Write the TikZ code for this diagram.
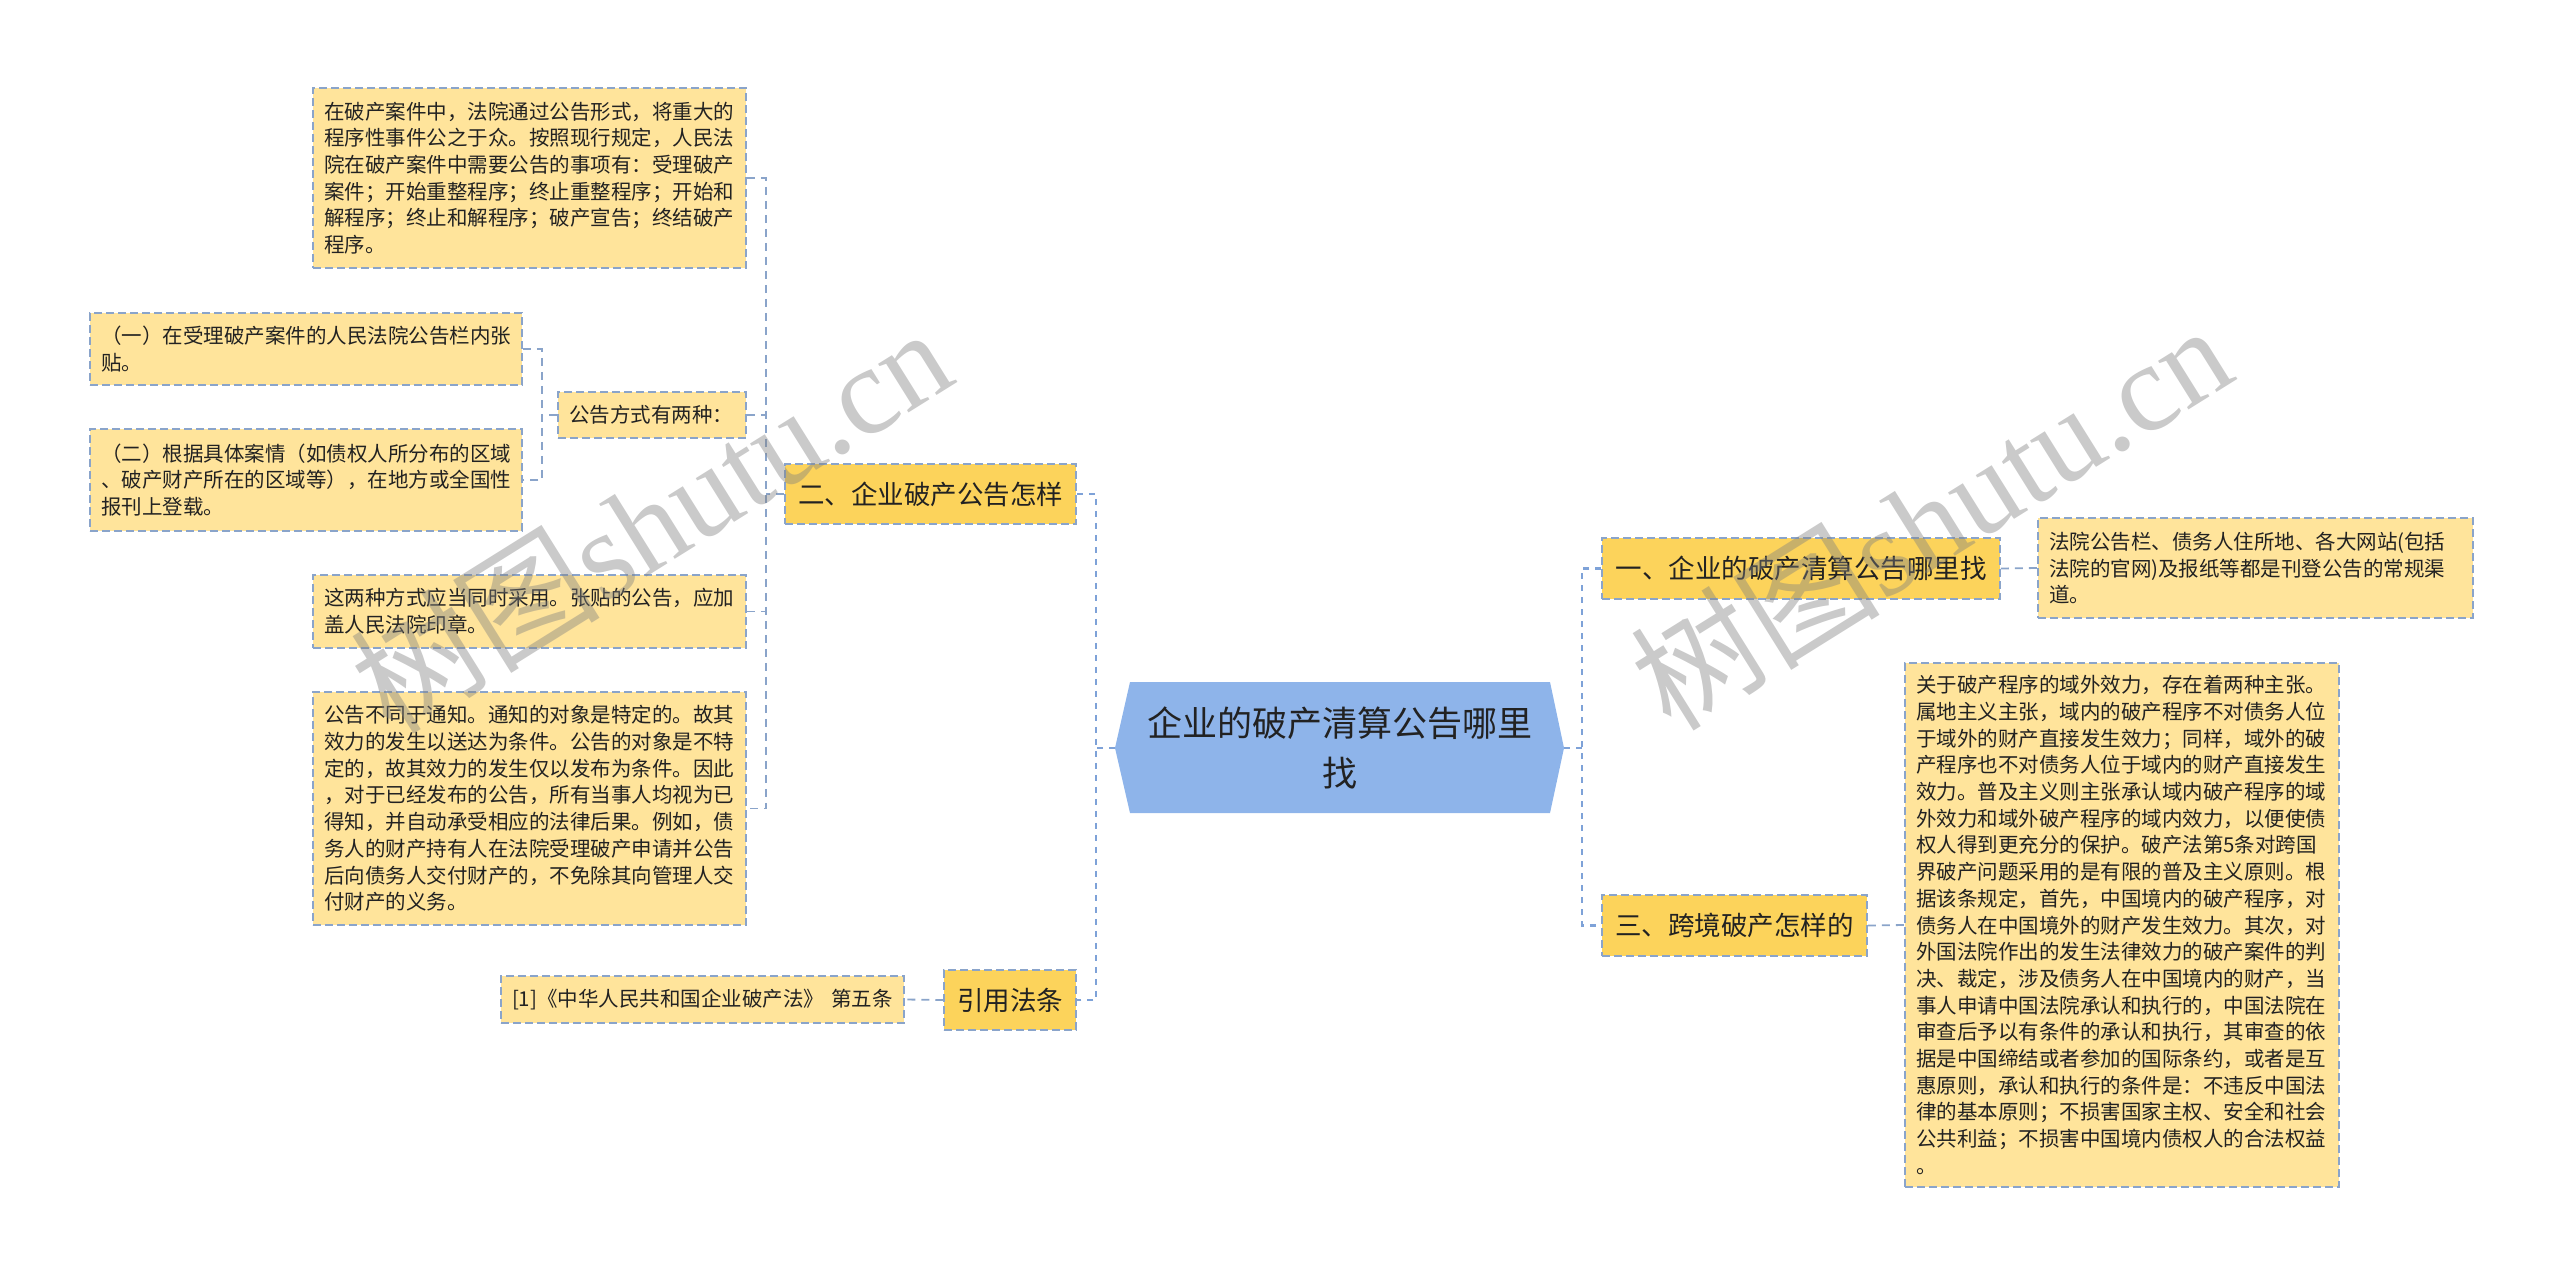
\documentclass[tikz,border=0pt]{standalone}
\usepackage{fontspec}
\setmainfont{Noto Sans CJK SC}
\newfontfamily\wmlatin{Liberation Serif}
\definecolor{leaffill}{HTML}{FFE49B}
\definecolor{lvlfill}{HTML}{FCD35B}
\definecolor{hexfill}{HTML}{8EB4EA}
\definecolor{bordcol}{HTML}{8AA4CA}
\definecolor{conncol}{HTML}{8AA4CA}
\definecolor{cconncol}{HTML}{7EA2D8}
\definecolor{txtcol}{HTML}{222222}
\begin{document}
\begin{tikzpicture}[x=1pt,y=-1pt,
  leafbox/.style={draw=bordcol, fill=leaffill, line width=1.5pt, dash pattern=on 8pt off 4pt,
    inner xsep=11pt, inner ysep=0pt, align=left, text=txtcol,
    font=\fontsize{20.5}{26.7}\selectfont},
  lvlbox/.style={draw=bordcol, fill=lvlfill, line width=1.5pt, dash pattern=on 8pt off 4pt,
    inner sep=0pt, align=center, text=txtcol, font=\fontsize{26.5}{32}\selectfont},
  connline/.style={draw=conncol, line width=1.8pt, dash pattern=on 8pt off 6pt},
  cconnline/.style={draw=cconncol, line width=2.5pt, dash pattern=on 6pt off 6pt},
  wmark/.style={text=black!50, opacity=0.42, rotate=32, inner sep=0pt}
]
\useasboundingbox (0,0) rectangle (2560,1277);

% centre hexagon
\fill[hexfill] (1115,748) -- (1130,682) -- (1550,682) -- (1564,748) -- (1550,813) -- (1130,813) -- cycle;
\coordinate (hexL) at (1115,748);
\coordinate (hexR) at (1564,748);
\node[text=txtcol, align=center, font=\fontsize{35}{50}\selectfont] (root) at (1340,748) {企业的破产清算公告哪里\\找};

% level-1 nodes
\node[lvlbox, minimum width=291pt, minimum height=60pt] (Er) at (930.5,494) {二、企业破产公告怎样};
\node[lvlbox, minimum width=132pt, minimum height=60pt] (Yin) at (1010,1000) {引用法条};
\node[lvlbox, minimum width=398pt, minimum height=61pt] (Yi) at (1801,568.5) {一、企业的破产清算公告哪里找};
\node[lvlbox, minimum width=265pt, minimum height=61pt] (San) at (1734.5,925.5) {三、跨境破产怎样的};

% left leaves
\node[leafbox, text width=411pt, minimum height=180pt] (L1) at (529.5,178) {在破产案件中，法院通过公告形式，将重大的\\程序性事件公之于众。按照现行规定，人民法\\院在破产案件中需要公告的事项有：受理破产\\案件；开始重整程序；终止重整程序；开始和\\解程序；终止和解程序；破产宣告；终结破产\\程序。};
\node[leafbox, text width=410pt, minimum height=72pt] (L2) at (306,349) {（一）在受理破产案件的人民法院公告栏内张\\贴。};
\node[leafbox, text width=410pt, minimum height=102pt] (L3) at (306,480) {（二）根据具体案情（如债权人所分布的区域\\、破产财产所在的区域等），在地方或全国性\\报刊上登载。};
\node[leafbox, text width=166pt, minimum height=46pt] (G) at (652,415) {公告方式有两种：};
\node[leafbox, text width=411pt, minimum height=73pt] (L4) at (529.5,611.5) {这两种方式应当同时采用。张贴的公告，应加\\盖人民法院印章。};
\node[leafbox, text width=411pt, minimum height=233pt] (L5) at (529.5,808.5) {公告不同于通知。通知的对象是特定的。故其\\效力的发生以送达为条件。公告的对象是不特\\定的，故其效力的发生仅以发布为条件。因此\\，对于已经发布的公告，所有当事人均视为已\\得知，并自动承受相应的法律后果。例如，债\\务人的财产持有人在法院受理破产申请并公告\\后向债务人交付财产的，不免除其向管理人交\\付财产的义务。};
\node[leafbox, text width=381pt, minimum height=47pt] (L6) at (702.5,999.5) {\mbox{[1]《中华人民共和国企业破产法》 第五条}};

% right leaves
\node[leafbox, text width=413pt, minimum height=100pt] (R1) at (2255.5,568) {法院公告栏、债务人住所地、各大网站(包括\\法院的官网)及报纸等都是刊登公告的常规渠\\道。};
\node[leafbox, text width=412pt, minimum height=524pt] (R2) at (2122,925) {关于破产程序的域外效力，存在着两种主张。\\属地主义主张，域内的破产程序不对债务人位\\于域外的财产直接发生效力；同样，域外的破\\产程序也不对债务人位于域内的财产直接发生\\效力。普及主义则主张承认域内破产程序的域\\外效力和域外破产程序的域内效力，以便使债\\权人得到更充分的保护。破产法第5条对跨国\\界破产问题采用的是有限的普及主义原则。根\\据该条规定，首先，中国境内的破产程序，对\\债务人在中国境外的财产发生效力。其次，对\\外国法院作出的发生法律效力的破产案件的判\\决、裁定，涉及债务人在中国境内的财产，当\\事人申请中国法院承认和执行的，中国法院在\\审查后予以有条件的承认和执行，其审查的依\\据是中国缔结或者参加的国际条约，或者是互\\惠原则，承认和执行的条件是：不违反中国法\\律的基本原则；不损害国家主权、安全和社会\\公共利益；不损害中国境内债权人的合法权益\\。};

% spine coordinates
\coordinate (spC) at (1096,0);
\coordinate (spR) at (1582,0);
\coordinate (spE) at (766,0);
\coordinate (spG) at (542,0);

% centre connectors
\draw[cconnline] (Er.east) -- (Er.east -| spC) -- (Yin.east -| spC) -- (Yin.east);
\draw[cconnline] (hexL) -- (hexL -| spC);
\draw[cconnline] (Yi.west) -- (Yi.west -| spR) -- (San.west -| spR) -- (San.west);
\draw[cconnline] (hexR) -- (hexR -| spR);

% branch connectors
\draw[connline] (L1.east) -- (L1.east -| spE) -- (L5.east -| spE) -- (L5.east);
\draw[connline] (G.east) -- (G.east -| spE);
\draw[connline] (L4.east) -- (L4.east -| spE);
\draw[connline] (Er.west) -- (Er.west -| spE);
\draw[connline] (L2.east) -- (L2.east -| spG) -- (L3.east -| spG) -- (L3.east);
\draw[connline] (G.west) -- (G.west -| spG);
\draw[connline] (Yin.west) -- (L6.east);
\draw[connline] (Yi.east) -- (R1.west);
\draw[connline] (San.east) -- (R2.west);

% watermarks
\node[wmark, font=\fontsize{125}{125}\selectfont] (wm1) at (650,519) {树图\wmlatin shutu.cn};
\node[wmark, font=\fontsize{125}{125}\selectfont] (wm2) at (1930,516) {树图\wmlatin shutu.cn};
\end{tikzpicture}
\end{document}
